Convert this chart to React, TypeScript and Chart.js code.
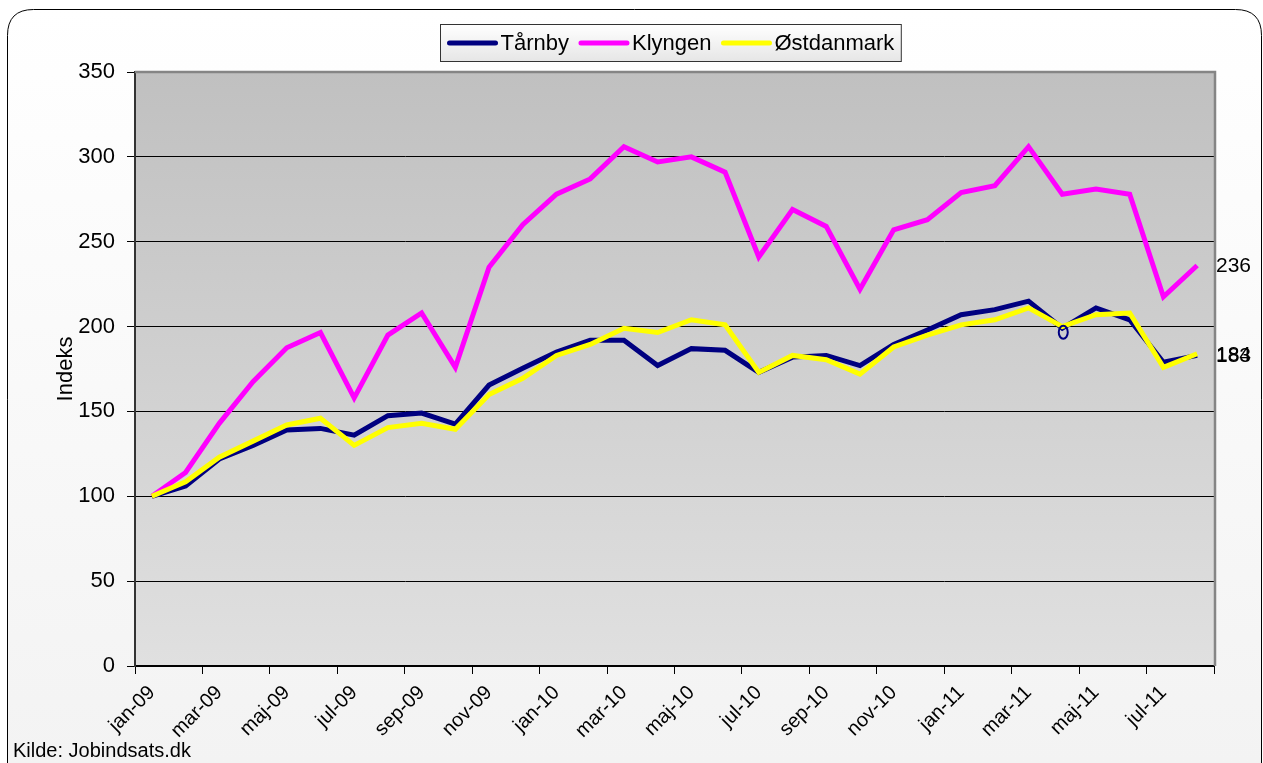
import React, { useEffect, useRef } from 'react';
import { Chart, registerables } from 'chart.js';

Chart.register(...registerables);

const months = [
  'jan-09', 'feb-09', 'mar-09', 'apr-09', 'maj-09', 'jun-09', 'jul-09', 'aug-09', 'sep-09', 'okt-09', 'nov-09', 'dec-09',
  'jan-10', 'feb-10', 'mar-10', 'apr-10', 'maj-10', 'jun-10', 'jul-10', 'aug-10', 'sep-10', 'okt-10', 'nov-10', 'dec-10',
  'jan-11', 'feb-11', 'mar-11', 'apr-11', 'maj-11', 'jun-11', 'jul-11', 'aug-11',
];

const tarnby = [100, 106, 122, 130, 139, 140, 136, 147.5, 149, 142.5, 165.5, 175.5, 185, 192, 192, 177, 187, 186, 173, 182, 183, 177, 189.5, 198, 207, 210, 215, 199, 211, 204, 179, 183];
const klyngen = [100, 114, 143, 167.5, 187.5, 196.5, 158, 195, 208, 176, 235, 260, 278, 287, 306, 297, 300, 291, 241, 269, 259, 222, 257, 263, 279, 283, 306, 278, 281, 278, 217.5, 236];
const ostdanmark = [100, 108.5, 123, 132.5, 142, 146, 130, 140.5, 143, 139.5, 160, 169.5, 183, 189.5, 199, 196.5, 204, 201, 173, 183, 180.5, 172, 188, 195, 201, 204, 211, 200, 207, 208, 176, 184];

const seriesNames = ['Tårnby', 'Klyngen', 'Østdanmark'];
const seriesColors = ['#000080', '#ff00ff', '#ffff00'];
const yMin = 0;
const yMax = 350;
const yStep = 50;
const yTitle = 'Indeks';
const sourceNote = 'Kilde: Jobindsats.dk';
const markedTarnbyIndex = 27;

const FONT = '"Liberation Sans", Arial, Helvetica, sans-serif';

const decorPlugin = {
  id: 'decor',
  beforeDraw(chart: any) {
    const { ctx, chartArea, width, height } = chart;
    ctx.save();
    ctx.fillStyle = '#ffffff';
    ctx.fillRect(0, 0, width, height);
    const x0 = 7.5, y0 = 9.5, x1 = 1261.5, y1 = 790, r = 26;
    ctx.beginPath();
    ctx.moveTo(x0 + r, y0);
    ctx.lineTo(x1 - r, y0);
    ctx.quadraticCurveTo(x1, y0, x1, y0 + r);
    ctx.lineTo(x1, y1 - r);
    ctx.quadraticCurveTo(x1, y1, x1 - r, y1);
    ctx.lineTo(x0 + r, y1);
    ctx.quadraticCurveTo(x0, y1, x0, y1 - r);
    ctx.lineTo(x0, y0 + r);
    ctx.quadraticCurveTo(x0, y0, x0 + r, y0);
    ctx.closePath();
    const g = ctx.createLinearGradient(0, y0, 0, 763);
    g.addColorStop(0, '#ffffff');
    g.addColorStop(1, '#f3f3f3');
    ctx.fillStyle = g;
    ctx.fill();
    ctx.strokeStyle = '#000000';
    ctx.lineWidth = 1;
    ctx.stroke();
    const pg = ctx.createLinearGradient(0, chartArea.top, 0, chartArea.bottom);
    pg.addColorStop(0, '#c0c0c0');
    pg.addColorStop(1, '#e0e0e0');
    ctx.fillStyle = pg;
    ctx.fillRect(chartArea.left, chartArea.top, chartArea.right - chartArea.left, chartArea.bottom - chartArea.top);
    ctx.restore();
  },
  afterDraw(chart: any) {
    const { ctx, chartArea } = chart;
    ctx.save();
    ctx.strokeStyle = '#858585';
    ctx.lineWidth = 2.5;
    ctx.beginPath();
    ctx.moveTo(chartArea.left, chartArea.top);
    ctx.lineTo(chartArea.right + 1, chartArea.top);
    ctx.lineTo(chartArea.right + 1, chartArea.bottom);
    ctx.stroke();

    const meta0 = chart.getDatasetMeta(0);
    const pt = meta0.data[markedTarnbyIndex];
    if (pt) {
      ctx.strokeStyle = seriesColors[0];
      ctx.lineWidth = 2;
      ctx.beginPath();
      ctx.ellipse(pt.x + 1, pt.y + 4, 4.5, 6.5, 0, 0, Math.PI * 2);
      ctx.stroke();
    }

    ctx.fillStyle = '#000000';
    ctx.font = `21px ${FONT}`;
    ctx.textAlign = 'left';
    ctx.textBaseline = 'middle';
    chart.data.datasets.forEach((ds: any, i: number) => {
      const meta = chart.getDatasetMeta(i);
      const last = meta.data[meta.data.length - 1];
      const v = ds.data[ds.data.length - 1];
      ctx.fillText(String(Math.round(v)), chartArea.right + 2, last.y + 1);
    });

    ctx.save();
    ctx.translate(66, 369);
    ctx.rotate(-Math.PI / 2);
    ctx.textAlign = 'center';
    ctx.textBaseline = 'middle';
    ctx.font = `22px ${FONT}`;
    ctx.fillText(yTitle, 0, 0);
    ctx.restore();

    ctx.font = `20px ${FONT}`;
    ctx.textAlign = 'left';
    ctx.textBaseline = 'alphabetic';
    ctx.fillText(sourceNote, 13, 757);

    ctx.font = `22px ${FONT}`;
    const seg = 50, gapST = 3, gapItem = 10, padX = 7;
    const tw = seriesNames.map((n) => ctx.measureText(n).width);
    let total = 2 * padX + gapItem * (seriesNames.length - 1);
    tw.forEach((w) => { total += seg + gapST + w; });
    const cx = 670.5;
    const bx = Math.round(cx - total / 2) + 0.5;
    const by = 24.5, bh = 37;
    const lg = ctx.createLinearGradient(0, by, 0, by + bh);
    lg.addColorStop(0, '#ffffff');
    lg.addColorStop(1, '#e6e6e6');
    ctx.fillStyle = lg;
    ctx.fillRect(bx, by, total, bh);
    ctx.strokeStyle = '#333333';
    ctx.lineWidth = 1;
    ctx.strokeRect(bx, by, total, bh);
    let x = bx + padX;
    const ly = by + bh / 2;
    ctx.textBaseline = 'middle';
    seriesNames.forEach((n, i) => {
      ctx.strokeStyle = seriesColors[i];
      ctx.lineWidth = 5;
      ctx.lineCap = 'round';
      ctx.beginPath();
      ctx.moveTo(x + 2, ly);
      ctx.lineTo(x + seg - 2, ly);
      ctx.stroke();
      x += seg + gapST;
      ctx.fillStyle = '#000000';
      ctx.fillText(n, x, ly + 1);
      x += tw[i] + gapItem;
    });
    ctx.restore();
  },
};

export default function App() {
  const ref = useRef<HTMLCanvasElement | null>(null);
  useEffect(() => {
    if (!ref.current) return;
    const mk = (label: string, data: number[], color: string, order: number) => ({
      label,
      data,
      borderColor: color,
      backgroundColor: color,
      borderWidth: 5,
      pointRadius: 0,
      tension: 0,
      fill: false,
      order,
    });
    const chart = new Chart(ref.current, {
      type: 'line',
      data: {
        labels: months,
        datasets: [
          mk(seriesNames[0], tarnby, seriesColors[0], 3),
          mk(seriesNames[1], klyngen, seriesColors[1], 2),
          mk(seriesNames[2], ostdanmark, seriesColors[2], 1),
        ],
      },
      options: {
        responsive: false,
        animation: false,
        layout: { padding: { top: 72, right: 49, left: 0, bottom: 0 } },
        plugins: { legend: { display: false }, tooltip: { enabled: false } },
        scales: {
          x: {
            type: 'category',
            offset: true,
            grid: {
              offset: true,
              drawOnChartArea: false,
              tickLength: 8,
              tickColor: (c: any) => (c.type !== 'tick' || c.index % 2 === 0 ? '#000000' : 'rgba(0,0,0,0)'),
              color: '#000000',
            },
            border: { color: '#000000', width: 2 },
            ticks: {
              autoSkip: false,
              maxRotation: 45,
              minRotation: 45,
              color: '#000000',
              padding: 7,
              font: { family: FONT, size: 20 },
              callback: (_v: any, i: number) => (i % 2 === 0 ? months[i] : ''),
            },
            afterFit: (s: any) => { s.height = 97; },
          },
          y: {
            min: yMin,
            max: yMax,
            ticks: { stepSize: yStep, color: '#000000', padding: 12, font: { family: FONT, size: 22 } },
            grid: { color: '#000000', lineWidth: 1, tickLength: 8, tickColor: '#000000' },
            border: { color: '#333333', width: 2 },
            afterFit: (s: any) => { s.width = 135; },
          },
        },
      },
      plugins: [decorPlugin],
    } as any);
    return () => chart.destroy();
  }, []);
  return (
    <div style={{ position: 'absolute', left: 0, top: 0, width: 1263, height: 763 }}>
      <canvas ref={ref} width={1263} height={763} style={{ display: 'block' }} />
    </div>
  );
}
